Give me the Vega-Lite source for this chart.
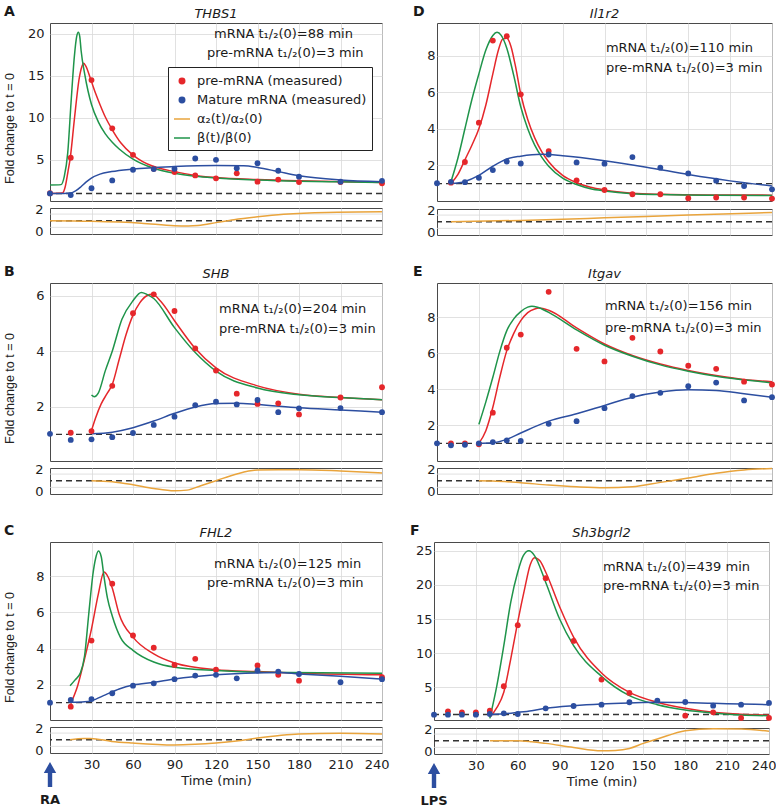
{
"$schema": "https://vega.github.io/schema/vega-lite/v6.json",
"padding": {"left": 2, "top": 4, "right": 0, "bottom": 0},
"config": {
  "font": "DejaVu Sans",
  "view": {"stroke": "#4a4a4a", "strokeWidth": 1},
  "axis": {"domain": false, "ticks": false, "grid": true, "gridColor": "#d9d9d9", "gridWidth": 0.8, "labelFont": "DejaVu Sans", "labelFontSize": 13, "labelColor": "#222222", "titleFont": "DejaVu Sans", "titleFontSize": 13, "titleFontWeight": "normal", "titleColor": "#222222"},
  "text": {"font": "DejaVu Sans", "color": "#1a1a1a"}
},
"datasets": {
"A": [
{"s":"pre","t":0,"v":1.02},{"s":"pre","t":15,"v":5.25},{"s":"pre","t":30,"v":14.5},{"s":"pre","t":45,"v":8.75},{"s":"pre","t":60,"v":5.6},{"s":"pre","t":75,"v":3.95},{"s":"pre","t":90,"v":3.55},{"s":"pre","t":105,"v":3.15},{"s":"pre","t":120,"v":2.8},{"s":"pre","t":135,"v":3.4},{"s":"pre","t":150,"v":2.4},{"s":"pre","t":165,"v":2.65},{"s":"pre","t":180,"v":2.35},{"s":"pre","t":210,"v":2.35},{"s":"pre","t":240,"v":2.2},
{"s":"mat","t":0,"v":1.0},{"s":"mat","t":15,"v":0.8},{"s":"mat","t":30,"v":1.62},{"s":"mat","t":45,"v":2.55},{"s":"mat","t":60,"v":3.82},{"s":"mat","t":75,"v":3.9},{"s":"mat","t":90,"v":3.93},{"s":"mat","t":105,"v":5.16},{"s":"mat","t":120,"v":5.0},{"s":"mat","t":135,"v":4.0},{"s":"mat","t":150,"v":4.6},{"s":"mat","t":165,"v":3.7},{"s":"mat","t":180,"v":3.0},{"s":"mat","t":210,"v":2.4},{"s":"mat","t":240,"v":2.5},
{"s":"preFit","t":0,"v":1.0},{"s":"preFit","t":9,"v":1.05},{"s":"preFit","t":11,"v":1.8},{"s":"preFit","t":13,"v":3.6},{"s":"preFit","t":14.7,"v":5.3},{"s":"preFit","t":17.6,"v":9.8},{"s":"preFit","t":21.2,"v":14.8},{"s":"preFit","t":23,"v":16.1},{"s":"preFit","t":24.3,"v":16.5},{"s":"preFit","t":25.8,"v":16.2},{"s":"preFit","t":29.6,"v":14.5},{"s":"preFit","t":33,"v":12.9},{"s":"preFit","t":36.1,"v":11.6},{"s":"preFit","t":40,"v":10.1},{"s":"preFit","t":44.6,"v":8.7},{"s":"preFit","t":51.3,"v":7.0},{"s":"preFit","t":59.8,"v":5.6},{"s":"preFit","t":67,"v":4.8},{"s":"preFit","t":75,"v":4.2},{"s":"preFit","t":90,"v":3.6},{"s":"preFit","t":105,"v":3.15},{"s":"preFit","t":120,"v":2.9},{"s":"preFit","t":150,"v":2.65},{"s":"preFit","t":180,"v":2.5},{"s":"preFit","t":210,"v":2.4},{"s":"preFit","t":240,"v":2.3},
{"s":"beta","t":0,"v":2.0},{"s":"beta","t":8,"v":2.05},{"s":"beta","t":10.3,"v":3.0},{"s":"beta","t":12.8,"v":5.8},{"s":"beta","t":15.2,"v":11.8},{"s":"beta","t":17.6,"v":17.3},{"s":"beta","t":19.3,"v":19.7},{"s":"beta","t":20.5,"v":20.2},{"s":"beta","t":21.5,"v":19.7},{"s":"beta","t":22.5,"v":18.0},{"s":"beta","t":25,"v":15.3},{"s":"beta","t":27.5,"v":13.2},{"s":"beta","t":30,"v":11.6},{"s":"beta","t":35,"v":9.5},{"s":"beta","t":40,"v":8.1},{"s":"beta","t":45,"v":7.1},{"s":"beta","t":50,"v":6.3},{"s":"beta","t":60,"v":5.1},{"s":"beta","t":75,"v":4.0},{"s":"beta","t":90,"v":3.4},{"s":"beta","t":105,"v":3.05},{"s":"beta","t":120,"v":2.85},{"s":"beta","t":150,"v":2.6},{"s":"beta","t":180,"v":2.45},{"s":"beta","t":210,"v":2.38},{"s":"beta","t":240,"v":2.3},
{"s":"matFit","t":0,"v":1.0},{"s":"matFit","t":10,"v":1.0},{"s":"matFit","t":15,"v":1.05},{"s":"matFit","t":18.5,"v":1.3},{"s":"matFit","t":22.4,"v":1.8},{"s":"matFit","t":26,"v":2.35},{"s":"matFit","t":29.6,"v":2.8},{"s":"matFit","t":36.1,"v":3.3},{"s":"matFit","t":44.6,"v":3.6},{"s":"matFit","t":59.8,"v":3.9},{"s":"matFit","t":90,"v":4.2},{"s":"matFit","t":120,"v":4.33},{"s":"matFit","t":140,"v":4.3},{"s":"matFit","t":150,"v":4.1},{"s":"matFit","t":165,"v":3.6},{"s":"matFit","t":180,"v":3.1},{"s":"matFit","t":210,"v":2.6},{"s":"matFit","t":240,"v":2.4},
{"s":"a2","t":0,"v":1.0},{"s":"a2","t":30,"v":0.95},{"s":"a2","t":66,"v":0.78},{"s":"a2","t":90,"v":0.55},{"s":"a2","t":100,"v":0.53},{"s":"a2","t":107,"v":0.57},{"s":"a2","t":121,"v":0.85},{"s":"a2","t":133,"v":1.09},{"s":"a2","t":150,"v":1.35},{"s":"a2","t":169,"v":1.58},{"s":"a2","t":200,"v":1.75},{"s":"a2","t":240,"v":1.8}
],
"D": [
{"s":"pre","t":10,"v":1.05},{"s":"pre","t":20,"v":2.18},{"s":"pre","t":30,"v":4.33},{"s":"pre","t":40,"v":8.82},{"s":"pre","t":50,"v":9.06},{"s":"pre","t":60,"v":5.88},{"s":"pre","t":80,"v":2.78},{"s":"pre","t":100,"v":1.18},{"s":"pre","t":120,"v":0.65},{"s":"pre","t":140,"v":0.42},{"s":"pre","t":160,"v":0.42},{"s":"pre","t":180,"v":0.2},{"s":"pre","t":200,"v":0.24},{"s":"pre","t":220,"v":0.24},{"s":"pre","t":240,"v":0.18},
{"s":"mat","t":0,"v":1.02},{"s":"mat","t":10,"v":1.1},{"s":"mat","t":20,"v":1.08},{"s":"mat","t":30,"v":1.32},{"s":"mat","t":40,"v":1.74},{"s":"mat","t":50,"v":2.21},{"s":"mat","t":60,"v":2.1},{"s":"mat","t":80,"v":2.59},{"s":"mat","t":100,"v":2.16},{"s":"mat","t":120,"v":2.09},{"s":"mat","t":140,"v":2.45},{"s":"mat","t":160,"v":1.87},{"s":"mat","t":180,"v":1.56},{"s":"mat","t":200,"v":1.16},{"s":"mat","t":220,"v":0.87},{"s":"mat","t":240,"v":0.69},
{"s":"preFit","t":10,"v":1.0},{"s":"preFit","t":15,"v":1.5},{"s":"preFit","t":20,"v":2.3},{"s":"preFit","t":25,"v":3.1},{"s":"preFit","t":30,"v":4.0},{"s":"preFit","t":35,"v":5.3},{"s":"preFit","t":40,"v":7.0},{"s":"preFit","t":44,"v":8.3},{"s":"preFit","t":47,"v":8.9},{"s":"preFit","t":50,"v":8.95},{"s":"preFit","t":53,"v":8.5},{"s":"preFit","t":56,"v":7.5},{"s":"preFit","t":60,"v":5.9},{"s":"preFit","t":65,"v":4.5},{"s":"preFit","t":70,"v":3.5},{"s":"preFit","t":75,"v":2.75},{"s":"preFit","t":80,"v":2.2},{"s":"preFit","t":90,"v":1.45},{"s":"preFit","t":100,"v":1.05},{"s":"preFit","t":110,"v":0.8},{"s":"preFit","t":120,"v":0.65},{"s":"preFit","t":140,"v":0.48},{"s":"preFit","t":160,"v":0.42},{"s":"preFit","t":200,"v":0.38},{"s":"preFit","t":240,"v":0.37},
{"s":"beta","t":10,"v":1.1},{"s":"beta","t":15,"v":2.4},{"s":"beta","t":20,"v":4.0},{"s":"beta","t":25,"v":5.6},{"s":"beta","t":30,"v":7.0},{"s":"beta","t":35,"v":8.3},{"s":"beta","t":40,"v":9.1},{"s":"beta","t":43,"v":9.27},{"s":"beta","t":46,"v":9.1},{"s":"beta","t":50,"v":8.4},{"s":"beta","t":55,"v":6.9},{"s":"beta","t":60,"v":5.2},{"s":"beta","t":65,"v":4.0},{"s":"beta","t":70,"v":3.1},{"s":"beta","t":75,"v":2.45},{"s":"beta","t":80,"v":1.95},{"s":"beta","t":90,"v":1.3},{"s":"beta","t":100,"v":0.95},{"s":"beta","t":110,"v":0.72},{"s":"beta","t":120,"v":0.6},{"s":"beta","t":140,"v":0.45},{"s":"beta","t":160,"v":0.4},{"s":"beta","t":200,"v":0.36},{"s":"beta","t":240,"v":0.35},
{"s":"matFit","t":10,"v":1.0},{"s":"matFit","t":20,"v":1.12},{"s":"matFit","t":30,"v":1.45},{"s":"matFit","t":40,"v":1.95},{"s":"matFit","t":50,"v":2.35},{"s":"matFit","t":60,"v":2.5},{"s":"matFit","t":75,"v":2.6},{"s":"matFit","t":90,"v":2.52},{"s":"matFit","t":120,"v":2.25},{"s":"matFit","t":150,"v":1.9},{"s":"matFit","t":180,"v":1.5},{"s":"matFit","t":210,"v":1.15},{"s":"matFit","t":240,"v":0.87},
{"s":"a2","t":10,"v":1.0},{"s":"a2","t":60,"v":1.12},{"s":"a2","t":120,"v":1.35},{"s":"a2","t":180,"v":1.6},{"s":"a2","t":240,"v":1.83}
],
"B": [
{"s":"pre","t":15,"v":1.06},{"s":"pre","t":30,"v":1.12},{"s":"pre","t":45,"v":2.75},{"s":"pre","t":60,"v":5.37},{"s":"pre","t":75,"v":6.05},{"s":"pre","t":90,"v":5.45},{"s":"pre","t":105,"v":4.1},{"s":"pre","t":120,"v":3.3},{"s":"pre","t":135,"v":2.47},{"s":"pre","t":150,"v":2.1},{"s":"pre","t":165,"v":2.12},{"s":"pre","t":180,"v":1.72},{"s":"pre","t":210,"v":2.33},{"s":"pre","t":240,"v":2.7},
{"s":"mat","t":0,"v":1.02},{"s":"mat","t":15,"v":0.8},{"s":"mat","t":30,"v":0.82},{"s":"mat","t":45,"v":0.9},{"s":"mat","t":60,"v":1.05},{"s":"mat","t":75,"v":1.34},{"s":"mat","t":90,"v":1.64},{"s":"mat","t":105,"v":2.05},{"s":"mat","t":120,"v":2.18},{"s":"mat","t":135,"v":2.08},{"s":"mat","t":150,"v":2.24},{"s":"mat","t":165,"v":1.8},{"s":"mat","t":180,"v":1.94},{"s":"mat","t":210,"v":1.95},{"s":"mat","t":240,"v":1.8},
{"s":"preFit","t":30,"v":1.14},{"s":"preFit","t":33,"v":1.6},{"s":"preFit","t":37,"v":2.1},{"s":"preFit","t":41,"v":2.45},{"s":"preFit","t":45,"v":2.8},{"s":"preFit","t":50,"v":3.7},{"s":"preFit","t":55,"v":4.6},{"s":"preFit","t":60,"v":5.3},{"s":"preFit","t":65,"v":5.75},{"s":"preFit","t":70,"v":6.0},{"s":"preFit","t":74,"v":6.05},{"s":"preFit","t":80,"v":5.8},{"s":"preFit","t":90,"v":5.1},{"s":"preFit","t":105,"v":4.1},{"s":"preFit","t":120,"v":3.4},{"s":"preFit","t":150,"v":2.75},{"s":"preFit","t":180,"v":2.45},{"s":"preFit","t":210,"v":2.33},{"s":"preFit","t":240,"v":2.25},
{"s":"beta","t":30,"v":2.42},{"s":"beta","t":32,"v":2.36},{"s":"beta","t":35,"v":2.5},{"s":"beta","t":40,"v":3.3},{"s":"beta","t":45,"v":4.0},{"s":"beta","t":52,"v":5.15},{"s":"beta","t":60,"v":5.82},{"s":"beta","t":66,"v":6.12},{"s":"beta","t":70,"v":6.05},{"s":"beta","t":75,"v":5.9},{"s":"beta","t":90,"v":4.85},{"s":"beta","t":105,"v":3.95},{"s":"beta","t":120,"v":3.28},{"s":"beta","t":150,"v":2.67},{"s":"beta","t":180,"v":2.43},{"s":"beta","t":210,"v":2.33},{"s":"beta","t":240,"v":2.25},
{"s":"matFit","t":30,"v":1.02},{"s":"matFit","t":45,"v":1.08},{"s":"matFit","t":60,"v":1.24},{"s":"matFit","t":75,"v":1.48},{"s":"matFit","t":90,"v":1.76},{"s":"matFit","t":105,"v":1.99},{"s":"matFit","t":120,"v":2.11},{"s":"matFit","t":135,"v":2.12},{"s":"matFit","t":150,"v":2.08},{"s":"matFit","t":180,"v":1.96},{"s":"matFit","t":210,"v":1.88},{"s":"matFit","t":240,"v":1.8},
{"s":"a2","t":30,"v":1.0},{"s":"a2","t":45,"v":0.91},{"s":"a2","t":60,"v":0.64},{"s":"a2","t":75,"v":0.3},{"s":"a2","t":90,"v":0.09},{"s":"a2","t":99,"v":0.15},{"s":"a2","t":109,"v":0.55},{"s":"a2","t":120,"v":1.0},{"s":"a2","t":135,"v":1.61},{"s":"a2","t":150,"v":1.97},{"s":"a2","t":165,"v":2.0},{"s":"a2","t":180,"v":2.0},{"s":"a2","t":210,"v":1.88},{"s":"a2","t":240,"v":1.7}
],
"E": [
{"s":"pre","t":10,"v":1.0},{"s":"pre","t":20,"v":1.0},{"s":"pre","t":30,"v":0.95},{"s":"pre","t":40,"v":2.7},{"s":"pre","t":50,"v":6.3},{"s":"pre","t":60,"v":7.03},{"s":"pre","t":80,"v":9.4},{"s":"pre","t":100,"v":6.24},{"s":"pre","t":120,"v":5.54},{"s":"pre","t":140,"v":6.85},{"s":"pre","t":160,"v":6.09},{"s":"pre","t":180,"v":5.3},{"s":"pre","t":200,"v":5.13},{"s":"pre","t":220,"v":4.42},{"s":"pre","t":240,"v":4.26},
{"s":"mat","t":0,"v":1.0},{"s":"mat","t":10,"v":0.89},{"s":"mat","t":20,"v":0.92},{"s":"mat","t":30,"v":1.0},{"s":"mat","t":40,"v":1.07},{"s":"mat","t":50,"v":1.16},{"s":"mat","t":60,"v":1.13},{"s":"mat","t":80,"v":2.08},{"s":"mat","t":100,"v":2.23},{"s":"mat","t":120,"v":2.95},{"s":"mat","t":140,"v":3.62},{"s":"mat","t":160,"v":3.8},{"s":"mat","t":180,"v":4.17},{"s":"mat","t":200,"v":4.37},{"s":"mat","t":220,"v":3.38},{"s":"mat","t":240,"v":3.56},
{"s":"preFit","t":30,"v":1.0},{"s":"preFit","t":35,"v":1.7},{"s":"preFit","t":40,"v":3.0},{"s":"preFit","t":45,"v":4.67},{"s":"preFit","t":50,"v":6.14},{"s":"preFit","t":55,"v":7.1},{"s":"preFit","t":60,"v":7.8},{"s":"preFit","t":65,"v":8.25},{"s":"preFit","t":70,"v":8.45},{"s":"preFit","t":73,"v":8.5},{"s":"preFit","t":80,"v":8.38},{"s":"preFit","t":100,"v":7.4},{"s":"preFit","t":120,"v":6.51},{"s":"preFit","t":140,"v":5.87},{"s":"preFit","t":160,"v":5.4},{"s":"preFit","t":180,"v":5.04},{"s":"preFit","t":200,"v":4.76},{"s":"preFit","t":220,"v":4.54},{"s":"preFit","t":240,"v":4.41},
{"s":"beta","t":30,"v":2.05},{"s":"beta","t":35,"v":3.3},{"s":"beta","t":40,"v":4.66},{"s":"beta","t":45,"v":6.1},{"s":"beta","t":50,"v":7.25},{"s":"beta","t":55,"v":7.9},{"s":"beta","t":60,"v":8.3},{"s":"beta","t":65,"v":8.55},{"s":"beta","t":68,"v":8.6},{"s":"beta","t":72,"v":8.55},{"s":"beta","t":80,"v":8.26},{"s":"beta","t":100,"v":7.29},{"s":"beta","t":120,"v":6.44},{"s":"beta","t":140,"v":5.83},{"s":"beta","t":160,"v":5.35},{"s":"beta","t":180,"v":5.0},{"s":"beta","t":200,"v":4.72},{"s":"beta","t":220,"v":4.52},{"s":"beta","t":240,"v":4.35},
{"s":"matFit","t":30,"v":1.0},{"s":"matFit","t":40,"v":1.03},{"s":"matFit","t":50,"v":1.22},{"s":"matFit","t":60,"v":1.57},{"s":"matFit","t":80,"v":2.23},{"s":"matFit","t":100,"v":2.64},{"s":"matFit","t":120,"v":3.1},{"s":"matFit","t":140,"v":3.56},{"s":"matFit","t":160,"v":3.84},{"s":"matFit","t":180,"v":3.97},{"s":"matFit","t":200,"v":3.93},{"s":"matFit","t":220,"v":3.75},{"s":"matFit","t":240,"v":3.56},
{"s":"a2","t":30,"v":1.0},{"s":"a2","t":40,"v":0.98},{"s":"a2","t":60,"v":0.82},{"s":"a2","t":80,"v":0.61},{"s":"a2","t":100,"v":0.45},{"s":"a2","t":120,"v":0.36},{"s":"a2","t":140,"v":0.45},{"s":"a2","t":160,"v":0.85},{"s":"a2","t":180,"v":1.24},{"s":"a2","t":200,"v":1.67},{"s":"a2","t":220,"v":1.97},{"s":"a2","t":240,"v":2.1}
],
"C": [
{"s":"pre","t":15,"v":0.78},{"s":"pre","t":30,"v":4.44},{"s":"pre","t":45,"v":7.59},{"s":"pre","t":60,"v":4.72},{"s":"pre","t":75,"v":4.04},{"s":"pre","t":90,"v":3.09},{"s":"pre","t":105,"v":3.43},{"s":"pre","t":120,"v":2.83},{"s":"pre","t":150,"v":3.06},{"s":"pre","t":165,"v":2.54},{"s":"pre","t":180,"v":2.22},{"s":"pre","t":240,"v":2.41},
{"s":"mat","t":0,"v":1.0},{"s":"mat","t":15,"v":1.15},{"s":"mat","t":30,"v":1.2},{"s":"mat","t":45,"v":1.52},{"s":"mat","t":60,"v":1.94},{"s":"mat","t":75,"v":2.07},{"s":"mat","t":90,"v":2.3},{"s":"mat","t":105,"v":2.5},{"s":"mat","t":120,"v":2.54},{"s":"mat","t":135,"v":2.35},{"s":"mat","t":150,"v":2.78},{"s":"mat","t":165,"v":2.72},{"s":"mat","t":180,"v":2.59},{"s":"mat","t":210,"v":2.13},{"s":"mat","t":240,"v":2.3},
{"s":"preFit","t":15,"v":0.95},{"s":"preFit","t":20,"v":1.94},{"s":"preFit","t":25,"v":3.43},{"s":"preFit","t":30,"v":5.09},{"s":"preFit","t":35,"v":7.04},{"s":"preFit","t":39,"v":8.24},{"s":"preFit","t":42,"v":7.96},{"s":"preFit","t":45,"v":7.35},{"s":"preFit","t":50,"v":5.9},{"s":"preFit","t":60,"v":4.63},{"s":"preFit","t":75,"v":3.7},{"s":"preFit","t":90,"v":3.2},{"s":"preFit","t":120,"v":2.83},{"s":"preFit","t":150,"v":2.72},{"s":"preFit","t":180,"v":2.63},{"s":"preFit","t":240,"v":2.54},
{"s":"beta","t":14.5,"v":1.94},{"s":"beta","t":18,"v":2.25},{"s":"beta","t":22,"v":2.65},{"s":"beta","t":25,"v":3.6},{"s":"beta","t":28,"v":5.9},{"s":"beta","t":31,"v":8.1},{"s":"beta","t":33,"v":9.0},{"s":"beta","t":35,"v":9.4},{"s":"beta","t":37,"v":9.1},{"s":"beta","t":39,"v":8.0},{"s":"beta","t":41.5,"v":6.8},{"s":"beta","t":45,"v":5.8},{"s":"beta","t":51,"v":4.6},{"s":"beta","t":60,"v":3.9},{"s":"beta","t":75,"v":3.25},{"s":"beta","t":90,"v":2.96},{"s":"beta","t":120,"v":2.78},{"s":"beta","t":150,"v":2.69},{"s":"beta","t":240,"v":2.63},
{"s":"matFit","t":15,"v":1.02},{"s":"matFit","t":25,"v":1.05},{"s":"matFit","t":30,"v":1.11},{"s":"matFit","t":40,"v":1.43},{"s":"matFit","t":50,"v":1.76},{"s":"matFit","t":60,"v":1.98},{"s":"matFit","t":75,"v":2.13},{"s":"matFit","t":90,"v":2.31},{"s":"matFit","t":120,"v":2.54},{"s":"matFit","t":150,"v":2.65},{"s":"matFit","t":165,"v":2.67},{"s":"matFit","t":180,"v":2.59},{"s":"matFit","t":210,"v":2.46},{"s":"matFit","t":240,"v":2.31},
{"s":"a2","t":14.5,"v":1.0},{"s":"a2","t":24.6,"v":1.12},{"s":"a2","t":29.4,"v":1.12},{"s":"a2","t":44.6,"v":0.85},{"s":"a2","t":59.6,"v":0.7},{"s":"a2","t":89.7,"v":0.52},{"s":"a2","t":104.9,"v":0.58},{"s":"a2","t":119.9,"v":0.7},{"s":"a2","t":134.8,"v":0.88},{"s":"a2","t":150,"v":1.15},{"s":"a2","t":164.5,"v":1.36},{"s":"a2","t":179.7,"v":1.52},{"s":"a2","t":209.8,"v":1.58},{"s":"a2","t":240,"v":1.52}
],
"F": [
{"s":"pre","t":10,"v":1.47},{"s":"pre","t":20,"v":1.32},{"s":"pre","t":30,"v":1.32},{"s":"pre","t":40,"v":1.57},{"s":"pre","t":50,"v":5.15},{"s":"pre","t":60,"v":14.1},{"s":"pre","t":80,"v":21.0},{"s":"pre","t":100,"v":11.8},{"s":"pre","t":120,"v":6.13},{"s":"pre","t":140,"v":4.17},{"s":"pre","t":180,"v":0.83},{"s":"pre","t":200,"v":1.32},{"s":"pre","t":220,"v":0.5},{"s":"pre","t":240,"v":0.5},
{"s":"mat","t":0,"v":0.98},{"s":"mat","t":10,"v":0.98},{"s":"mat","t":20,"v":0.98},{"s":"mat","t":30,"v":0.98},{"s":"mat","t":40,"v":1.08},{"s":"mat","t":50,"v":1.18},{"s":"mat","t":60,"v":1.08},{"s":"mat","t":80,"v":1.91},{"s":"mat","t":100,"v":2.25},{"s":"mat","t":120,"v":2.45},{"s":"mat","t":140,"v":2.8},{"s":"mat","t":160,"v":3.04},{"s":"mat","t":180,"v":2.84},{"s":"mat","t":200,"v":2.3},{"s":"mat","t":220,"v":2.45},{"s":"mat","t":240,"v":2.7},
{"s":"preFit","t":40,"v":0.59},{"s":"preFit","t":45,"v":2.0},{"s":"preFit","t":50,"v":4.26},{"s":"preFit","t":55,"v":9.17},{"s":"preFit","t":60,"v":14.6},{"s":"preFit","t":65,"v":19.5},{"s":"preFit","t":69,"v":23.0},{"s":"preFit","t":72,"v":24.0},{"s":"preFit","t":76,"v":23.5},{"s":"preFit","t":80,"v":21.9},{"s":"preFit","t":90,"v":16.8},{"s":"preFit","t":100,"v":12.35},{"s":"preFit","t":120,"v":7.1},{"s":"preFit","t":140,"v":4.26},{"s":"preFit","t":160,"v":2.8},{"s":"preFit","t":180,"v":1.91},{"s":"preFit","t":200,"v":1.32},{"s":"preFit","t":220,"v":1.03},{"s":"preFit","t":240,"v":0.93},
{"s":"beta","t":40,"v":0.44},{"s":"beta","t":45,"v":5.2},{"s":"beta","t":50,"v":11.1},{"s":"beta","t":55,"v":17.5},{"s":"beta","t":60,"v":21.9},{"s":"beta","t":64,"v":24.3},{"s":"beta","t":68,"v":25.0},{"s":"beta","t":72,"v":24.3},{"s":"beta","t":80,"v":20.4},{"s":"beta","t":90,"v":15.0},{"s":"beta","t":100,"v":11.1},{"s":"beta","t":120,"v":6.6},{"s":"beta","t":140,"v":3.77},{"s":"beta","t":160,"v":2.45},{"s":"beta","t":180,"v":1.67},{"s":"beta","t":200,"v":1.23},{"s":"beta","t":220,"v":0.93},{"s":"beta","t":240,"v":0.83},
{"s":"matFit","t":40,"v":1.0},{"s":"matFit","t":50,"v":1.1},{"s":"matFit","t":60,"v":1.32},{"s":"matFit","t":70,"v":1.57},{"s":"matFit","t":80,"v":1.91},{"s":"matFit","t":100,"v":2.3},{"s":"matFit","t":120,"v":2.55},{"s":"matFit","t":140,"v":2.7},{"s":"matFit","t":160,"v":2.8},{"s":"matFit","t":180,"v":2.75},{"s":"matFit","t":200,"v":2.65},{"s":"matFit","t":220,"v":2.55},{"s":"matFit","t":240,"v":2.45},
{"s":"a2","t":40,"v":1.0},{"s":"a2","t":60,"v":1.0},{"s":"a2","t":70,"v":0.91},{"s":"a2","t":80,"v":0.76},{"s":"a2","t":100,"v":0.39},{"s":"a2","t":120,"v":0.09},{"s":"a2","t":130,"v":0.12},{"s":"a2","t":140,"v":0.3},{"s":"a2","t":150,"v":0.76},{"s":"a2","t":160,"v":1.15},{"s":"a2","t":180,"v":1.91},{"s":"a2","t":200,"v":2.09},{"s":"a2","t":220,"v":2.06},{"s":"a2","t":240,"v":1.85}
]
},
"resolve": {"scale": {"color": "independent"}, "legend": {"color": "independent"}},
"spacing": 23,
"vconcat": [
{"hconcat": [
 {"vconcat": [
  {"width": 332, "height": 178, "data": {"name": "A"},
   "layer": [
    {"data": {"values": [{}]}, "mark": {"type": "rule", "strokeDash": [6, 4], "color": "#333333", "strokeWidth": 1.4}, "encoding": {"y": {"datum": 1, "type": "quantitative"}}},
    {"transform": [{"filter": {"field": "s", "oneOf": ["beta", "preFit", "matFit"]}}], "mark": {"type": "line", "strokeWidth": 1.5, "interpolate": "monotone"},
     "encoding": {"x": {"field": "t", "type": "quantitative", "scale": {"domain": [0, 240], "nice": false, "zero": false}, "axis": {"values": [30, 60, 90, 120, 150, 180, 210, 240], "labels": false, "title": null}},
      "y": {"field": "v", "type": "quantitative", "scale": {"domain": [0.1, 21.3], "nice": false, "zero": false}, "axis": {"values": [5, 10, 15, 20], "title": "Fold change to t = 0", "titleX": -37, "titleY": 105, "titleFont": "Liberation Sans", "titleFontSize": 12.5, "titleBaseline": "alphabetic", "labelPadding": 6}},
      "color": {"field": "s", "type": "nominal", "scale": {"domain": ["pre", "mat", "a2", "beta", "preFit", "matFit"], "range": ["#e5272b", "#2c4ea0", "#e9a43c", "#1f944a", "#e5272b", "#2c4ea0"]},
       "legend": {"values": ["pre", "mat", "a2", "beta"], "orient": "none", "legendX": 118, "legendY": 44, "title": null, "strokeColor": "#222222", "fillColor": "#ffffff", "padding": 5, "labelFont": "DejaVu Sans", "labelFontSize": 13, "labelColor": "#1a1a1a", "labelLimit": 300, "symbolSize": 256, "rowPadding": 3, "labelOffset": 6,
        "labelExpr": "datum.label == 'pre' ? 'pre-mRNA (measured)' : datum.label == 'mat' ? 'Mature mRNA (measured)' : datum.label == 'a2' ? 'α₂(t)/α₂(0)' : 'β(t)/β(0)'",
        "encode": {"symbols": {"update": {
          "shape": {"signal": "(datum.value == 'pre' || datum.value == 'mat') ? 'circle' : 'stroke'"},
          "size": {"signal": "(datum.value == 'pre' || datum.value == 'mat') ? 30 : 256"},
          "fill": {"signal": "datum.value == 'pre' ? '#e5272b' : datum.value == 'mat' ? '#2c4ea0' : 'transparent'"},
          "stroke": {"signal": "datum.value == 'a2' ? '#e9a43c' : datum.value == 'beta' ? '#1f944a' : 'transparent'"},
          "strokeWidth": {"value": 1.5}, "opacity": {"value": 1}}}}}}}},
    {"transform": [{"filter": {"field": "s", "oneOf": ["pre", "mat"]}}], "mark": {"type": "point", "filled": true, "size": 34, "opacity": 1},
     "encoding": {"x": {"field": "t", "type": "quantitative"}, "y": {"field": "v", "type": "quantitative"},
      "color": {"field": "s", "type": "nominal", "scale": {"domain": ["pre", "mat", "a2", "beta", "preFit", "matFit"], "range": ["#e5272b", "#2c4ea0", "#e9a43c", "#1f944a", "#e5272b", "#2c4ea0"]}}}},
    {"data": {"values": [{}]}, "mark": {"type": "text", "text": "mRNA t₁/₂(0)=88 min", "align": "left", "baseline": "alphabetic", "fontSize": 13}, "encoding": {"x": {"datum": 118.6, "type": "quantitative"}, "y": {"datum": 19.5, "type": "quantitative"}}},
    {"data": {"values": [{}]}, "mark": {"type": "text", "text": "pre-mRNA t₁/₂(0)=3 min", "align": "left", "baseline": "alphabetic", "fontSize": 13}, "encoding": {"x": {"datum": 113.5, "type": "quantitative"}, "y": {"datum": 17.3, "type": "quantitative"}}},
    {"data": {"values": [{}]}, "mark": {"type": "text", "text": "A", "align": "left", "baseline": "alphabetic", "fontSize": 14, "fontWeight": "bold", "dx": -46, "dy": -7}, "encoding": {"x": {"datum": 0, "type": "quantitative"}, "y": {"datum": 21.3, "type": "quantitative"}}},
    {"data": {"values": [{}]}, "mark": {"type": "text", "text": "THBS1", "align": "center", "baseline": "alphabetic", "fontSize": 13, "fontStyle": "italic", "dy": -5}, "encoding": {"x": {"datum": 120, "type": "quantitative"}, "y": {"datum": 21.3, "type": "quantitative"}}}
   ]},
  {"width": 332, "height": 26, "data": {"name": "A"},
   "layer": [
    {"data": {"values": [{"g": 0.4}, {"g": 1.6}]}, "mark": {"type": "rule", "color": "#d9d9d9", "strokeWidth": 0.8}, "encoding": {"y": {"field": "g", "type": "quantitative", "scale": {"domain": [-0.2, 2.15], "nice": false, "zero": false}, "axis": {"values": [0, 1, 2], "grid": false, "labelPadding": 7, "title": null}}}},
    {"data": {"values": [{}]}, "mark": {"type": "rule", "strokeDash": [6, 4], "color": "#333333", "strokeWidth": 1.4}, "encoding": {"y": {"datum": 1, "type": "quantitative"}}},
    {"transform": [{"filter": {"field": "s", "equal": "a2"}}], "mark": {"type": "line", "color": "#e9a43c", "strokeWidth": 1.5, "interpolate": "monotone"},
     "encoding": {"x": {"field": "t", "type": "quantitative", "scale": {"domain": [0, 240], "nice": false, "zero": false}, "axis": {"values": [30, 60, 90, 120, 150, 180, 210, 240], "labels": false, "title": null}}, "y": {"field": "v", "type": "quantitative"}}}
   ]}
 ], "spacing": 1, "resolve": {"scale": {"color": "independent"}, "legend": {"color": "independent"}}},
 {"vconcat": [
  {"width": 335, "height": 178, "data": {"name": "D"},
   "layer": [
    {"data": {"values": [{}]}, "mark": {"type": "rule", "strokeDash": [6, 4], "color": "#333333", "strokeWidth": 1.4}, "encoding": {"y": {"datum": 1, "type": "quantitative"}}},
    {"transform": [{"filter": {"field": "s", "oneOf": ["beta", "preFit", "matFit"]}}], "mark": {"type": "line", "strokeWidth": 1.5, "interpolate": "monotone"},
     "encoding": {"x": {"field": "t", "type": "quantitative", "scale": {"domain": [0, 240], "nice": false, "zero": false}, "axis": {"values": [30, 60, 90, 120, 150, 180, 210, 240], "labels": false, "title": null}},
      "y": {"field": "v", "type": "quantitative", "scale": {"domain": [0.05, 9.78], "nice": false, "zero": false}, "axis": {"values": [2, 4, 6, 8], "title": null, "labelPadding": 2}},
      "color": {"field": "s", "type": "nominal", "scale": {"domain": ["pre", "mat", "a2", "beta", "preFit", "matFit"], "range": ["#e5272b", "#2c4ea0", "#e9a43c", "#1f944a", "#e5272b", "#2c4ea0"]}, "legend": null}}},
    {"transform": [{"filter": {"field": "s", "oneOf": ["pre", "mat"]}}], "mark": {"type": "point", "filled": true, "size": 34, "opacity": 1},
     "encoding": {"x": {"field": "t", "type": "quantitative"}, "y": {"field": "v", "type": "quantitative"},
      "color": {"field": "s", "type": "nominal", "scale": {"domain": ["pre", "mat", "a2", "beta", "preFit", "matFit"], "range": ["#e5272b", "#2c4ea0", "#e9a43c", "#1f944a", "#e5272b", "#2c4ea0"]}, "legend": null}}},
    {"data": {"values": [{}]}, "mark": {"type": "text", "text": "mRNA t₁/₂(0)=110 min", "align": "left", "baseline": "alphabetic", "fontSize": 13}, "encoding": {"x": {"datum": 121, "type": "quantitative"}, "y": {"datum": 8.19, "type": "quantitative"}}},
    {"data": {"values": [{}]}, "mark": {"type": "text", "text": "pre-mRNA t₁/₂(0)=3 min", "align": "left", "baseline": "alphabetic", "fontSize": 13}, "encoding": {"x": {"datum": 121, "type": "quantitative"}, "y": {"datum": 7.09, "type": "quantitative"}}},
    {"data": {"values": [{}]}, "mark": {"type": "text", "text": "D", "align": "left", "baseline": "alphabetic", "fontSize": 14, "fontWeight": "bold", "dx": -24, "dy": -7}, "encoding": {"x": {"datum": 0, "type": "quantitative"}, "y": {"datum": 9.78, "type": "quantitative"}}},
    {"data": {"values": [{}]}, "mark": {"type": "text", "text": "Il1r2", "align": "center", "baseline": "alphabetic", "fontSize": 13, "fontStyle": "italic", "dy": -5}, "encoding": {"x": {"datum": 120, "type": "quantitative"}, "y": {"datum": 9.78, "type": "quantitative"}}}
   ]},
  {"width": 335, "height": 26, "data": {"name": "D"},
   "layer": [
    {"data": {"values": [{"g": 0.4}, {"g": 1.6}]}, "mark": {"type": "rule", "color": "#d9d9d9", "strokeWidth": 0.8}, "encoding": {"y": {"field": "g", "type": "quantitative", "scale": {"domain": [-0.2, 2.15], "nice": false, "zero": false}, "axis": {"values": [0, 1, 2], "grid": false, "labelPadding": 2, "title": null}}}},
    {"data": {"values": [{}]}, "mark": {"type": "rule", "strokeDash": [6, 4], "color": "#333333", "strokeWidth": 1.4}, "encoding": {"y": {"datum": 1, "type": "quantitative"}}},
    {"transform": [{"filter": {"field": "s", "equal": "a2"}}], "mark": {"type": "line", "color": "#e9a43c", "strokeWidth": 1.5, "interpolate": "monotone"},
     "encoding": {"x": {"field": "t", "type": "quantitative", "scale": {"domain": [0, 240], "nice": false, "zero": false}, "axis": {"values": [30, 60, 90, 120, 150, 180, 210, 240], "labels": false, "title": null}}, "y": {"field": "v", "type": "quantitative"}}}
   ]}
 ], "spacing": 1, "resolve": {"scale": {"color": "independent"}, "legend": {"color": "independent"}}}
], "spacing": 26, "resolve": {"scale": {"color": "independent"}, "legend": {"color": "independent"}}},
{"hconcat": [
 {"vconcat": [
  {"width": 332, "height": 178, "data": {"name": "B"},
   "layer": [
    {"data": {"values": [{}]}, "mark": {"type": "rule", "strokeDash": [6, 4], "color": "#333333", "strokeWidth": 1.4}, "encoding": {"y": {"datum": 1, "type": "quantitative"}}},
    {"transform": [{"filter": {"field": "s", "oneOf": ["beta", "preFit", "matFit"]}}], "mark": {"type": "line", "strokeWidth": 1.5, "interpolate": "monotone"},
     "encoding": {"x": {"field": "t", "type": "quantitative", "scale": {"domain": [0, 240], "nice": false, "zero": false}, "axis": {"values": [30, 60, 90, 120, 150, 180, 210, 240], "labels": false, "title": null}},
      "y": {"field": "v", "type": "quantitative", "scale": {"domain": [0.04, 6.46], "nice": false, "zero": false}, "axis": {"values": [2, 4, 6], "title": "Fold change to t = 0", "titleX": -37, "titleY": 105, "titleFont": "Liberation Sans", "titleFontSize": 12.5, "titleBaseline": "alphabetic", "labelPadding": 6}},
      "color": {"field": "s", "type": "nominal", "scale": {"domain": ["pre", "mat", "a2", "beta", "preFit", "matFit"], "range": ["#e5272b", "#2c4ea0", "#e9a43c", "#1f944a", "#e5272b", "#2c4ea0"]}, "legend": null}}},
    {"transform": [{"filter": {"field": "s", "oneOf": ["pre", "mat"]}}], "mark": {"type": "point", "filled": true, "size": 34, "opacity": 1},
     "encoding": {"x": {"field": "t", "type": "quantitative"}, "y": {"field": "v", "type": "quantitative"},
      "color": {"field": "s", "type": "nominal", "scale": {"domain": ["pre", "mat", "a2", "beta", "preFit", "matFit"], "range": ["#e5272b", "#2c4ea0", "#e9a43c", "#1f944a", "#e5272b", "#2c4ea0"]}, "legend": null}}},
    {"data": {"values": [{}]}, "mark": {"type": "text", "text": "mRNA t₁/₂(0)=204 min", "align": "left", "baseline": "alphabetic", "fontSize": 13}, "encoding": {"x": {"datum": 122.2, "type": "quantitative"}, "y": {"datum": 5.37, "type": "quantitative"}}},
    {"data": {"values": [{}]}, "mark": {"type": "text", "text": "pre-mRNA t₁/₂(0)=3 min", "align": "left", "baseline": "alphabetic", "fontSize": 13}, "encoding": {"x": {"datum": 122.2, "type": "quantitative"}, "y": {"datum": 4.67, "type": "quantitative"}}},
    {"data": {"values": [{}]}, "mark": {"type": "text", "text": "B", "align": "left", "baseline": "alphabetic", "fontSize": 14, "fontWeight": "bold", "dx": -46, "dy": -7}, "encoding": {"x": {"datum": 0, "type": "quantitative"}, "y": {"datum": 6.46, "type": "quantitative"}}},
    {"data": {"values": [{}]}, "mark": {"type": "text", "text": "SHB", "align": "center", "baseline": "alphabetic", "fontSize": 13, "fontStyle": "italic", "dy": -5}, "encoding": {"x": {"datum": 120, "type": "quantitative"}, "y": {"datum": 6.46, "type": "quantitative"}}}
   ]},
  {"width": 332, "height": 26, "data": {"name": "B"},
   "layer": [
    {"data": {"values": [{"g": 0.4}, {"g": 1.6}]}, "mark": {"type": "rule", "color": "#d9d9d9", "strokeWidth": 0.8}, "encoding": {"y": {"field": "g", "type": "quantitative", "scale": {"domain": [-0.2, 2.15], "nice": false, "zero": false}, "axis": {"values": [0, 1, 2], "grid": false, "labelPadding": 7, "title": null}}}},
    {"data": {"values": [{}]}, "mark": {"type": "rule", "strokeDash": [6, 4], "color": "#333333", "strokeWidth": 1.4}, "encoding": {"y": {"datum": 1, "type": "quantitative"}}},
    {"transform": [{"filter": {"field": "s", "equal": "a2"}}], "mark": {"type": "line", "color": "#e9a43c", "strokeWidth": 1.5, "interpolate": "monotone"},
     "encoding": {"x": {"field": "t", "type": "quantitative", "scale": {"domain": [0, 240], "nice": false, "zero": false}, "axis": {"values": [30, 60, 90, 120, 150, 180, 210, 240], "labels": false, "title": null}}, "y": {"field": "v", "type": "quantitative"}}}
   ]}
 ], "spacing": 1, "resolve": {"scale": {"color": "independent"}, "legend": {"color": "independent"}}},
 {"vconcat": [
  {"width": 335, "height": 178, "data": {"name": "E"},
   "layer": [
    {"data": {"values": [{}]}, "mark": {"type": "rule", "strokeDash": [6, 4], "color": "#333333", "strokeWidth": 1.4}, "encoding": {"y": {"datum": 1, "type": "quantitative"}}},
    {"transform": [{"filter": {"field": "s", "oneOf": ["beta", "preFit", "matFit"]}}], "mark": {"type": "line", "strokeWidth": 1.5, "interpolate": "monotone"},
     "encoding": {"x": {"field": "t", "type": "quantitative", "scale": {"domain": [0, 240], "nice": false, "zero": false}, "axis": {"values": [30, 60, 90, 120, 150, 180, 210, 240], "labels": false, "title": null}},
      "y": {"field": "v", "type": "quantitative", "scale": {"domain": [0.02, 9.89], "nice": false, "zero": false}, "axis": {"values": [2, 4, 6, 8], "title": null, "labelPadding": 2}},
      "color": {"field": "s", "type": "nominal", "scale": {"domain": ["pre", "mat", "a2", "beta", "preFit", "matFit"], "range": ["#e5272b", "#2c4ea0", "#e9a43c", "#1f944a", "#e5272b", "#2c4ea0"]}, "legend": null}}},
    {"transform": [{"filter": {"field": "s", "oneOf": ["pre", "mat"]}}], "mark": {"type": "point", "filled": true, "size": 34, "opacity": 1},
     "encoding": {"x": {"field": "t", "type": "quantitative"}, "y": {"field": "v", "type": "quantitative"},
      "color": {"field": "s", "type": "nominal", "scale": {"domain": ["pre", "mat", "a2", "beta", "preFit", "matFit"], "range": ["#e5272b", "#2c4ea0", "#e9a43c", "#1f944a", "#e5272b", "#2c4ea0"]}, "legend": null}}},
    {"data": {"values": [{}]}, "mark": {"type": "text", "text": "mRNA t₁/₂(0)=156 min", "align": "left", "baseline": "alphabetic", "fontSize": 13}, "encoding": {"x": {"datum": 120.3, "type": "quantitative"}, "y": {"datum": 8.37, "type": "quantitative"}}},
    {"data": {"values": [{}]}, "mark": {"type": "text", "text": "pre-mRNA t₁/₂(0)=3 min", "align": "left", "baseline": "alphabetic", "fontSize": 13}, "encoding": {"x": {"datum": 120.3, "type": "quantitative"}, "y": {"datum": 7.17, "type": "quantitative"}}},
    {"data": {"values": [{}]}, "mark": {"type": "text", "text": "E", "align": "left", "baseline": "alphabetic", "fontSize": 14, "fontWeight": "bold", "dx": -24, "dy": -7}, "encoding": {"x": {"datum": 0, "type": "quantitative"}, "y": {"datum": 9.89, "type": "quantitative"}}},
    {"data": {"values": [{}]}, "mark": {"type": "text", "text": "Itgav", "align": "center", "baseline": "alphabetic", "fontSize": 13, "fontStyle": "italic", "dy": -5}, "encoding": {"x": {"datum": 120, "type": "quantitative"}, "y": {"datum": 9.89, "type": "quantitative"}}}
   ]},
  {"width": 335, "height": 26, "data": {"name": "E"},
   "layer": [
    {"data": {"values": [{"g": 0.4}, {"g": 1.6}]}, "mark": {"type": "rule", "color": "#d9d9d9", "strokeWidth": 0.8}, "encoding": {"y": {"field": "g", "type": "quantitative", "scale": {"domain": [-0.2, 2.15], "nice": false, "zero": false}, "axis": {"values": [0, 1, 2], "grid": false, "labelPadding": 2, "title": null}}}},
    {"data": {"values": [{}]}, "mark": {"type": "rule", "strokeDash": [6, 4], "color": "#333333", "strokeWidth": 1.4}, "encoding": {"y": {"datum": 1, "type": "quantitative"}}},
    {"transform": [{"filter": {"field": "s", "equal": "a2"}}], "mark": {"type": "line", "color": "#e9a43c", "strokeWidth": 1.5, "interpolate": "monotone"},
     "encoding": {"x": {"field": "t", "type": "quantitative", "scale": {"domain": [0, 240], "nice": false, "zero": false}, "axis": {"values": [30, 60, 90, 120, 150, 180, 210, 240], "labels": false, "title": null}}, "y": {"field": "v", "type": "quantitative"}}}
   ]}
 ], "spacing": 1, "resolve": {"scale": {"color": "independent"}, "legend": {"color": "independent"}}}
], "spacing": 26, "resolve": {"scale": {"color": "independent"}, "legend": {"color": "independent"}}},
{"hconcat": [
 {"vconcat": [
  {"width": 332, "height": 178, "data": {"name": "C"},
   "layer": [
    {"data": {"values": [{}]}, "mark": {"type": "rule", "strokeDash": [6, 4], "color": "#333333", "strokeWidth": 1.4}, "encoding": {"y": {"datum": 1, "type": "quantitative"}}},
    {"transform": [{"filter": {"field": "s", "oneOf": ["beta", "preFit", "matFit"]}}], "mark": {"type": "line", "strokeWidth": 1.5, "interpolate": "monotone"},
     "encoding": {"x": {"field": "t", "type": "quantitative", "scale": {"domain": [0, 240], "nice": false, "zero": false}, "axis": {"values": [30, 60, 90, 120, 150, 180, 210, 240], "labels": false, "title": null}},
      "y": {"field": "v", "type": "quantitative", "scale": {"domain": [0.04, 9.9], "nice": false, "zero": false}, "axis": {"values": [2, 4, 6, 8], "title": "Fold change to t = 0", "titleX": -37, "titleY": 105, "titleFont": "Liberation Sans", "titleFontSize": 12.5, "titleBaseline": "alphabetic", "labelPadding": 6}},
      "color": {"field": "s", "type": "nominal", "scale": {"domain": ["pre", "mat", "a2", "beta", "preFit", "matFit"], "range": ["#e5272b", "#2c4ea0", "#e9a43c", "#1f944a", "#e5272b", "#2c4ea0"]}, "legend": null}}},
    {"transform": [{"filter": {"field": "s", "oneOf": ["pre", "mat"]}}], "mark": {"type": "point", "filled": true, "size": 34, "opacity": 1},
     "encoding": {"x": {"field": "t", "type": "quantitative"}, "y": {"field": "v", "type": "quantitative"},
      "color": {"field": "s", "type": "nominal", "scale": {"domain": ["pre", "mat", "a2", "beta", "preFit", "matFit"], "range": ["#e5272b", "#2c4ea0", "#e9a43c", "#1f944a", "#e5272b", "#2c4ea0"]}, "legend": null}}},
    {"data": {"values": [{}]}, "mark": {"type": "text", "text": "mRNA t₁/₂(0)=125 min", "align": "left", "baseline": "alphabetic", "fontSize": 13}, "encoding": {"x": {"datum": 118.6, "type": "quantitative"}, "y": {"datum": 8.47, "type": "quantitative"}}},
    {"data": {"values": [{}]}, "mark": {"type": "text", "text": "pre-mRNA t₁/₂(0)=3 min", "align": "left", "baseline": "alphabetic", "fontSize": 13}, "encoding": {"x": {"datum": 113.5, "type": "quantitative"}, "y": {"datum": 7.41, "type": "quantitative"}}},
    {"data": {"values": [{}]}, "mark": {"type": "text", "text": "C", "align": "left", "baseline": "alphabetic", "fontSize": 14, "fontWeight": "bold", "dx": -46, "dy": -7}, "encoding": {"x": {"datum": 0, "type": "quantitative"}, "y": {"datum": 9.9, "type": "quantitative"}}},
    {"data": {"values": [{}]}, "mark": {"type": "text", "text": "FHL2", "align": "center", "baseline": "alphabetic", "fontSize": 13, "fontStyle": "italic", "dy": -5}, "encoding": {"x": {"datum": 120, "type": "quantitative"}, "y": {"datum": 9.9, "type": "quantitative"}}}
   ]},
  {"width": 332, "height": 26, "data": {"name": "C"},
   "layer": [
    {"data": {"values": [{"g": 0.4}, {"g": 1.6}]}, "mark": {"type": "rule", "color": "#d9d9d9", "strokeWidth": 0.8}, "encoding": {"y": {"field": "g", "type": "quantitative", "scale": {"domain": [-0.2, 2.15], "nice": false, "zero": false}, "axis": {"values": [0, 1, 2], "grid": false, "labelPadding": 7, "title": null}}}},
    {"data": {"values": [{}]}, "mark": {"type": "rule", "strokeDash": [6, 4], "color": "#333333", "strokeWidth": 1.4}, "encoding": {"y": {"datum": 1, "type": "quantitative"}}},
    {"transform": [{"filter": {"field": "s", "equal": "a2"}}], "mark": {"type": "line", "color": "#e9a43c", "strokeWidth": 1.5, "interpolate": "monotone"},
     "encoding": {"x": {"field": "t", "type": "quantitative", "scale": {"domain": [0, 240], "nice": false, "zero": false}, "axis": {"values": [30, 60, 90, 120, 150, 180, 210, 240], "title": "Time (min)", "labelFlush": true, "labelFlushOffset": 7, "labelOverlap": false, "labelPadding": 5, "titlePadding": 3}}, "y": {"field": "v", "type": "quantitative"}}},
    {"data": {"values": [{}]}, "mark": {"type": "point", "shape": "M0,0.9L0.62,2L0.22,2L0.22,3.4L-0.22,3.4L-0.22,2L-0.62,2Z", "filled": true, "color": "#2c4ea0", "size": 400, "opacity": 1, "strokeWidth": 0}, "encoding": {"x": {"datum": 0, "type": "quantitative"}, "y": {"datum": -0.2, "type": "quantitative"}}},
    {"data": {"values": [{}]}, "mark": {"type": "text", "text": "RA", "align": "center", "baseline": "middle", "fontSize": 13, "fontWeight": "bold", "dy": 47}, "encoding": {"x": {"datum": 0, "type": "quantitative"}, "y": {"datum": -0.2, "type": "quantitative"}}}
   ]}
 ], "spacing": 1, "resolve": {"scale": {"color": "independent"}, "legend": {"color": "independent"}}},
 {"vconcat": [
  {"width": 335, "height": 178, "data": {"name": "F"},
   "layer": [
    {"data": {"values": [{}]}, "mark": {"type": "rule", "strokeDash": [6, 4], "color": "#333333", "strokeWidth": 1.4}, "encoding": {"y": {"datum": 1, "type": "quantitative"}}},
    {"transform": [{"filter": {"field": "s", "oneOf": ["beta", "preFit", "matFit"]}}], "mark": {"type": "line", "strokeWidth": 1.5, "interpolate": "monotone"},
     "encoding": {"x": {"field": "t", "type": "quantitative", "scale": {"domain": [0, 240], "nice": false, "zero": false}, "axis": {"values": [30, 60, 90, 120, 150, 180, 210, 240], "labels": false, "title": null}},
      "y": {"field": "v", "type": "quantitative", "scale": {"domain": [0.2, 26.3], "nice": false, "zero": false}, "axis": {"values": [5, 10, 15, 20, 25], "title": null, "labelPadding": 2}},
      "color": {"field": "s", "type": "nominal", "scale": {"domain": ["pre", "mat", "a2", "beta", "preFit", "matFit"], "range": ["#e5272b", "#2c4ea0", "#e9a43c", "#1f944a", "#e5272b", "#2c4ea0"]}, "legend": null}}},
    {"transform": [{"filter": {"field": "s", "oneOf": ["pre", "mat"]}}], "mark": {"type": "point", "filled": true, "size": 34, "opacity": 1},
     "encoding": {"x": {"field": "t", "type": "quantitative"}, "y": {"field": "v", "type": "quantitative"},
      "color": {"field": "s", "type": "nominal", "scale": {"domain": ["pre", "mat", "a2", "beta", "preFit", "matFit"], "range": ["#e5272b", "#2c4ea0", "#e9a43c", "#1f944a", "#e5272b", "#2c4ea0"]}, "legend": null}}},
    {"data": {"values": [{}]}, "mark": {"type": "text", "text": "mRNA t₁/₂(0)=439 min", "align": "left", "baseline": "alphabetic", "fontSize": 13}, "encoding": {"x": {"datum": 121, "type": "quantitative"}, "y": {"datum": 22.1, "type": "quantitative"}}},
    {"data": {"values": [{}]}, "mark": {"type": "text", "text": "pre-mRNA t₁/₂(0)=3 min", "align": "left", "baseline": "alphabetic", "fontSize": 13}, "encoding": {"x": {"datum": 121, "type": "quantitative"}, "y": {"datum": 19.2, "type": "quantitative"}}},
    {"data": {"values": [{}]}, "mark": {"type": "text", "text": "F", "align": "left", "baseline": "alphabetic", "fontSize": 14, "fontWeight": "bold", "dx": -24, "dy": -7}, "encoding": {"x": {"datum": 0, "type": "quantitative"}, "y": {"datum": 26.3, "type": "quantitative"}}},
    {"data": {"values": [{}]}, "mark": {"type": "text", "text": "Sh3bgrl2", "align": "center", "baseline": "alphabetic", "fontSize": 13, "fontStyle": "italic", "dy": -5}, "encoding": {"x": {"datum": 120, "type": "quantitative"}, "y": {"datum": 26.3, "type": "quantitative"}}}
   ]},
  {"width": 335, "height": 26, "data": {"name": "F"},
   "layer": [
    {"data": {"values": [{"g": 0.4}, {"g": 1.6}]}, "mark": {"type": "rule", "color": "#d9d9d9", "strokeWidth": 0.8}, "encoding": {"y": {"field": "g", "type": "quantitative", "scale": {"domain": [-0.2, 2.15], "nice": false, "zero": false}, "axis": {"values": [0, 1, 2], "grid": false, "labelPadding": 2, "title": null}}}},
    {"data": {"values": [{}]}, "mark": {"type": "rule", "strokeDash": [6, 4], "color": "#333333", "strokeWidth": 1.4}, "encoding": {"y": {"datum": 1, "type": "quantitative"}}},
    {"transform": [{"filter": {"field": "s", "equal": "a2"}}], "mark": {"type": "line", "color": "#e9a43c", "strokeWidth": 1.5, "interpolate": "monotone"},
     "encoding": {"x": {"field": "t", "type": "quantitative", "scale": {"domain": [0, 240], "nice": false, "zero": false}, "axis": {"values": [30, 60, 90, 120, 150, 180, 210, 240], "title": "Time (min)", "labelFlush": true, "labelFlushOffset": 7, "labelOverlap": false, "labelPadding": 5, "titlePadding": 3}}, "y": {"field": "v", "type": "quantitative"}}},
    {"data": {"values": [{}]}, "mark": {"type": "point", "shape": "M0,0.9L0.62,2L0.22,2L0.22,3.4L-0.22,3.4L-0.22,2L-0.62,2Z", "filled": true, "color": "#2c4ea0", "size": 400, "opacity": 1, "strokeWidth": 0}, "encoding": {"x": {"datum": 0, "type": "quantitative"}, "y": {"datum": -0.2, "type": "quantitative"}}},
    {"data": {"values": [{}]}, "mark": {"type": "text", "text": "LPS", "align": "center", "baseline": "middle", "fontSize": 13, "fontWeight": "bold", "dy": 47}, "encoding": {"x": {"datum": 0, "type": "quantitative"}, "y": {"datum": -0.2, "type": "quantitative"}}}
   ]}
 ], "spacing": 1, "resolve": {"scale": {"color": "independent"}, "legend": {"color": "independent"}}}
], "spacing": 19, "resolve": {"scale": {"color": "independent"}, "legend": {"color": "independent"}}}
]
}
